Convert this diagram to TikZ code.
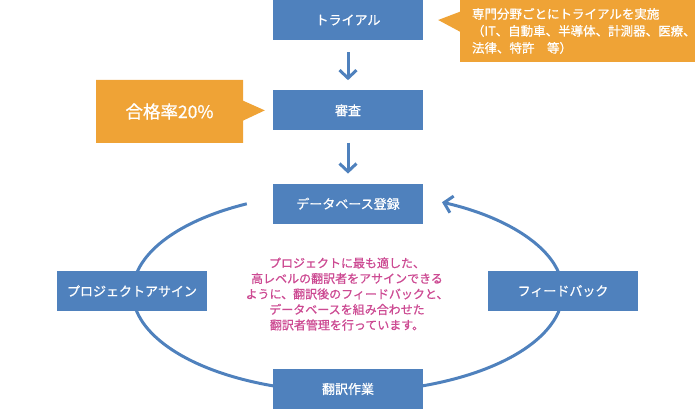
\documentclass[tikz,border=0pt]{standalone}
\usepackage{fontspec}
\setmainfont{Noto Sans CJK JP}[FakeBold=0.8]
\usetikzlibrary{positioning}
\usetikzlibrary{arrows.meta}
\usetikzlibrary{shapes.callouts}
\pgfdeclarelayer{bg}
\pgfsetlayers{bg,main}
\definecolor{boxblue}{HTML}{4F81BD}
\definecolor{noteorange}{HTML}{EFA336}
\definecolor{textpink}{HTML}{CC4A92}

\begin{document}
\begin{tikzpicture}[
	x=1pt, y=1pt,
	arrow/.style={boxblue, line width=3pt, -{Straight Barb[length=8pt,width=17pt]}},
	stepbox/.style={fill=boxblue, text=white, minimum width=150pt, minimum height=40pt, inner sep=0pt, font=\fontsize{13}{15}\selectfont},
	note/.style={rectangle callout, fill=noteorange, text=white, callout pointer width=20pt},
]

\useasboundingbox (0,0) rectangle (695,409);

% flow from top
\node[stepbox](trial) at (348,389) {トライアル};
\node[stepbox, below=50pt of trial](review) {審査};
\node[stepbox, below=53pt of review](db) {データベース登録};

% cycle
\node[stepbox](work) at (348,20) {翻訳作業};
\node[stepbox](assign) at (132,118) {プロジェクトアサイン};
\node[stepbox](feedback) at (563,118) {フィードバック};

\draw[arrow, shorten <=12pt, shorten >=10pt] (trial) -- (review);
\draw[arrow, shorten <=12pt, shorten >=10pt] (review) -- (db);

\coordinate[left=26pt of db.west](loopin);
\begin{pgfonlayer}{bg}
\draw[arrow] (loopin) arc[start angle=118, end angle=424, x radius=215pt, y radius=100pt];
\end{pgfonlayer}

\node[textpink, align=center, font=\fontsize{12}{15.5}\selectfont](summary) at (347,115) {プロジェクトに最も適した、\\高レベルの翻訳者をアサインできる\\ように、翻訳後のフィードバックと、\\データベースを組み合わせた\\翻訳者管理を行っています。};

% notes
\node[note, inner xsep=12pt, inner ysep=0pt, text width=213pt, minimum height=62pt, align=left, font=\fontsize{12.5}{17}\selectfont, callout absolute pointer={([xshift=15pt]trial.east)}](fieldnote) at (578.5,378) {専門分野ごとにトライアルを実施\\（IT、自動車、半導体、計測器、医療、\\法律、特許　等）};
\node[note, minimum width=147pt, minimum height=63pt, font=\fontsize{17.5}{20}\selectfont, callout absolute pointer={([xshift=-8pt]review.west)}](passnote) at (169.5,297.5) {合格率20\%};
\end{tikzpicture}
\end{document}
